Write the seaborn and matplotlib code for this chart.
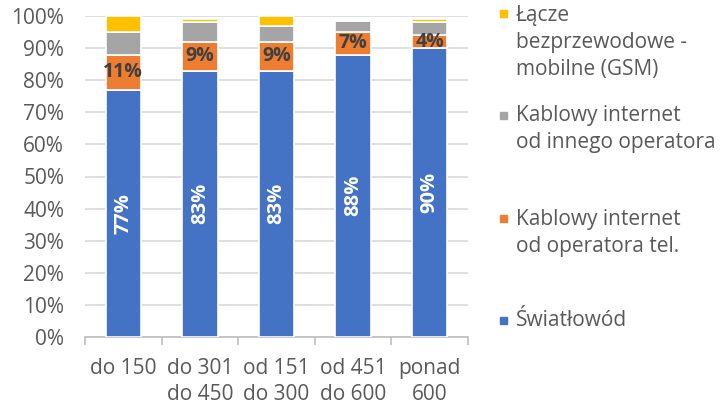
import matplotlib
matplotlib.use("Agg")
import matplotlib.pyplot as plt
import seaborn as sns
import numpy as np
import pandas as pd
from matplotlib.ticker import FuncFormatter, FixedLocator
from matplotlib.patches import Rectangle

categories = ["do 150", "do 301\ndo 450", "od 151\ndo 300", "od 451\ndo 600", "ponad\n600"]
swiatlowod = [77, 83, 83, 88, 90]
kabl_tel = [11, 9, 9, 7, 4]
kabl_inny = [7, 6, 5, 3.5, 4]
gsm = [5, 1, 3, 0, 1]

series_names = ["Światłowód", "Kablowy internet\nod operatora tel.",
                "Kablowy internet\nod innego operatora",
                "Łącze\nbezprzewodowe -\nmobilne (GSM)"]
series_values = [swiatlowod, kabl_tel, kabl_inny, gsm]
colors = ["#4472C4", "#ED7D31", "#A5A5A5", "#FFC000"]

sns.set_theme(style="white")
plt.rcParams['font.family'] = ['Open Sans', 'DejaVu Sans']
txt_color = "#595959"
fs = 15

fig = plt.figure(figsize=(7.2, 4.08), dpi=100)
ax = fig.add_axes([85/720, 1-337/408, (468-85)/720, (337-16)/408])

bottom = np.zeros(len(categories))
for name, vals, col in zip(series_names, series_values, colors):
    df = pd.DataFrame({"cat": categories, "val": vals})
    sns.barplot(data=df, x="cat", y="val", order=categories, color=col,
                width=0.46, bottom=bottom.copy(), edgecolor="white",
                linewidth=1.2, ax=ax, saturation=1, zorder=3)
    bottom += np.array(vals, dtype=float)

ax.set_ylim(0, 100)
ax.set_xlim(-0.5, len(categories)-0.5)
ax.yaxis.set_major_locator(FixedLocator(np.arange(0, 101, 10)))
ax.yaxis.set_major_formatter(FuncFormatter(lambda v, p: f"{int(v)}%"))
ax.grid(axis="y", color="#D9D9D9", linewidth=1.2, zorder=0)
ax.set_axisbelow(True)
for s in ["top", "right", "left"]:
    ax.spines[s].set_visible(False)
ax.spines["bottom"].set_color("#BFBFBF")
ax.spines["bottom"].set_linewidth(1.2)
ax.set_xlabel("")
ax.set_ylabel("")
ax.tick_params(axis="y", length=0, labelsize=fs, colors=txt_color, pad=15)
ax.tick_params(axis="x", length=0, labelsize=fs, colors=txt_color, pad=15)
ax.set_xticks(range(len(categories)))
ax.set_xticklabels(categories, linespacing=1.3)
ax.set_xticks(np.arange(-0.5, len(categories), 1), minor=True)
ax.tick_params(axis="x", which="minor", length=6, width=1.2, color="#BFBFBF", bottom=True)

# labels
for i in range(len(categories)):
    b = swiatlowod[i]
    ax.text(i, b/2, f"{b}%", rotation=90, ha="center", va="center", color="white",
            fontsize=14.5, fontweight="bold", zorder=5)
    o = kabl_tel[i]
    ax.text(i, b + o/2, f"{o}%", ha="center", va="center", color="#404040",
            fontsize=14, fontweight="bold", zorder=5)

# legend
leg_items = list(zip(series_names, colors))[::-1]
leg_marker_y = [10, 112, 215, 317]
leg_text_top = [5, 105, 209, 310]
for (name, col), my, ty in zip(leg_items, leg_marker_y, leg_text_top):
    fig.patches.append(Rectangle((500/720, 1-(my+7)/408), 7/720, 7/408,
                                 transform=fig.transFigure, color=col, figure=fig))
    fig.text(516/720, 1-ty/408, name, ha="left", va="top", fontsize=fs,
             color=txt_color, linespacing=1.38)

fig.savefig("out.png", dpi=100)
